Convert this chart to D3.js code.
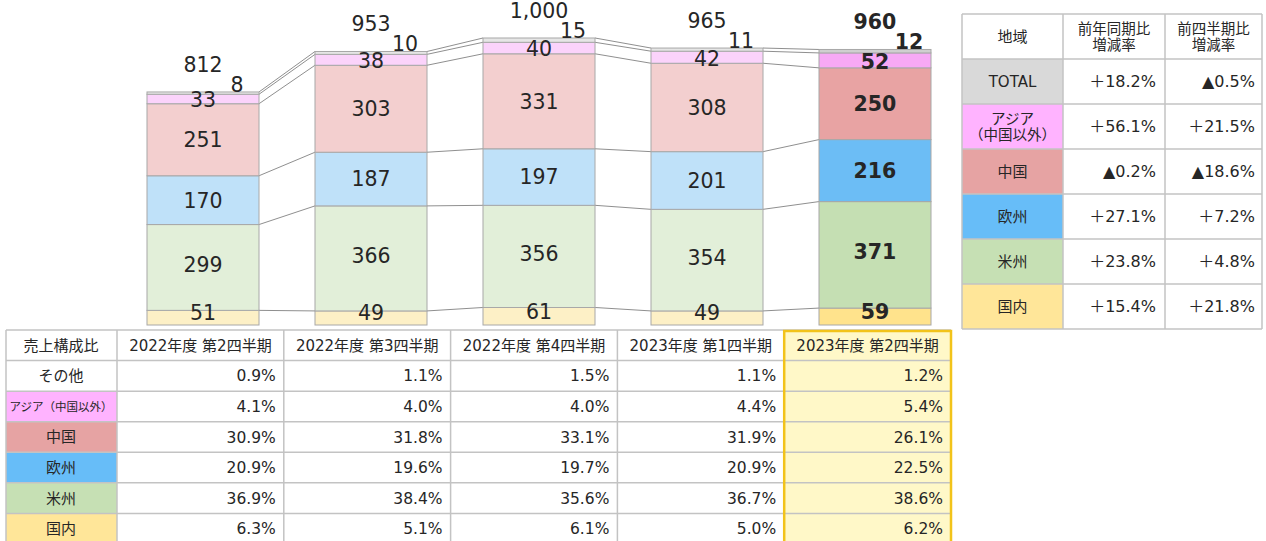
<!DOCTYPE html>
<html>
<head>
<meta charset="utf-8">
<script src="https://cdn.jsdelivr.net/npm/d3@7/dist/d3.min.js"></script>
<style>
body{margin:0;background:#fff;}
text{font-family:"DejaVu Sans","Noto Sans CJK JP",sans-serif;fill:#262626;}
</style>
</head>
<body>
<div id="chart"></div>
<script>
// quarters and stacked series (bottom -> top)
var quarters = ["2022年度 第2四半期","2022年度 第3四半期","2022年度 第4四半期","2023年度 第1四半期","2023年度 第2四半期"];
var seriesKeys = ["国内","米州","欧州","中国","アジア","その他"];
var domestic = [51, 49, 61, 49, 59];
var americas = [299, 366, 356, 354, 371];
var europe   = [170, 187, 197, 201, 216];
var china    = [251, 303, 331, 308, 250];
var asia     = [33, 38, 40, 42, 52];
var other    = [8, 10, 15, 11, 12];
var seriesValues = [domestic, americas, europe, china, asia, other];

// composition table (売上構成比)
var shareLabels = ["その他","アジア（中国以外）","中国","欧州","米州","国内"];
var shareOther    = [0.9, 1.1, 1.5, 1.1, 1.2];
var shareAsia     = [4.1, 4.0, 4.0, 4.4, 5.4];
var shareChina    = [30.9, 31.8, 33.1, 31.9, 26.1];
var shareEurope   = [20.9, 19.6, 19.7, 20.9, 22.5];
var shareAmericas = [36.9, 38.4, 35.6, 36.7, 38.6];
var shareDomestic = [6.3, 5.1, 6.1, 5.0, 6.2];
var shareValues = [shareOther, shareAsia, shareChina, shareEurope, shareAmericas, shareDomestic];

// growth table
var regionNames = ["TOTAL","アジア\n（中国以外）","中国","欧州","米州","国内"];
var yoyGrowth = [18.2, 56.1, -0.2, 27.1, 23.8, 15.4];
var qoqGrowth = [-0.5, 21.5, -18.6, 7.2, 4.8, 21.8];

var fadedColors = ["#fdf0c6","#e2efd9","#bfe1f9","#f3cfcf","#fbd3fb","#e6e6e6"];
var strongColors = ["#ffe38c","#c5dfb3","#6cbdf5","#e8a3a3","#f7a9f5","#cfcfcf"];
var labelDy = [-5, -3, 0, 0, 1, 0];

var svg = d3.select("#chart").append("svg")
    .attr("width", 1266)
    .attr("height", 541);

var x = d3.scaleBand()
    .domain(quarters)
    .range([119, 959])
    .paddingInner(1/3)
    .paddingOuter(1/6);
var y = d3.scaleLinear()
    .domain([0, 1000])
    .range([325, 38]);

var rows = quarters.map(function(q, i){
    var r = {q: q};
    seriesKeys.forEach(function(k, j){ r[k] = seriesValues[j][i]; });
    return r;
});
var stack = d3.stack().keys(seriesKeys)(rows);
var last = quarters.length - 1;

// connector lines between bars
var conn = svg.append("g");
stack.forEach(function(layer){
    for (var i = 0; i < last; i++){
        conn.append("line")
            .attr("x1", x(quarters[i]) + x.bandwidth())
            .attr("y1", y(layer[i][1]))
            .attr("x2", x(quarters[i+1]))
            .attr("y2", y(layer[i+1][1]))
            .style("stroke", "#8f8f8f")
            .style("stroke-width", 1);
    }
});

// segments
var bars = svg.append("g");
stack.forEach(function(layer, s){
    bars.selectAll(null)
        .data(layer)
        .enter().append("rect")
        .attr("x", function(d){ return x(d.data.q); })
        .attr("y", function(d){ return y(d[1]); })
        .attr("width", x.bandwidth())
        .attr("height", function(d){ return y(d[0]) - y(d[1]); })
        .style("fill", function(d, i){ return i === last ? strongColors[s] : fadedColors[s]; })
        .style("stroke", "#a8a8a8")
        .style("stroke-width", 1);
});

// segment labels
var labels = svg.append("g");
stack.forEach(function(layer, s){
    var isOther = s === stack.length - 1;
    labels.selectAll(null)
        .data(layer)
        .enter().append("text")
        .attr("x", function(d){ return x(d.data.q) + x.bandwidth() / 2 + (isOther ? 34 : 0); })
        .attr("y", function(d){ return isOther ? y(d[1]) : (y(d[0]) + y(d[1])) / 2 + labelDy[s]; })
        .attr("dy", isOther ? "0" : "0.36em")
        .attr("text-anchor", "middle")
        .attr("font-size", "20.5px")
        .attr("font-weight", function(d, i){ return i === last ? "bold" : "normal"; })
        .text(function(d){ return d[1] - d[0]; });
});

// totals
var topLayer = stack[stack.length - 1];
labels.selectAll(null)
    .data(topLayer)
    .enter().append("text")
    .attr("x", function(d){ return x(d.data.q) + x.bandwidth() / 2; })
    .attr("y", function(d){ return y(d[1]) - 20; })
    .attr("text-anchor", "middle")
    .attr("font-size", "20.5px")
    .attr("font-weight", function(d, i){ return i === last ? "bold" : "normal"; })
    .text(function(d){ return d3.format(",")(d[1]); });

// ---- bottom table ----
var gridColor = "#c3c3c3";
var tx = d3.scaleBand().domain(quarters).range([117, 951]);
var tRows = ["head"].concat(shareLabels);
var ty = d3.scaleBand().domain(tRows).range([330, 544]);
var labelColors = ["#ffffff","#ffb3ff","#e6a3a3","#67bdf8","#c6e0b4","#ffe699"];
var tbl = svg.append("g");

tbl.append("rect")
    .attr("x", tx(quarters[last])).attr("y", 330)
    .attr("width", tx.bandwidth()).attr("height", 214)
    .style("fill", "#fff8c8");

shareLabels.forEach(function(lab, r){
    tbl.append("rect")
        .attr("x", 6).attr("y", ty(lab))
        .attr("width", 111).attr("height", ty.bandwidth())
        .style("fill", labelColors[r]);
});

// grid
tRows.forEach(function(r){
    tbl.append("line")
        .attr("x1", 6).attr("x2", 951)
        .attr("y1", ty(r)).attr("y2", ty(r))
        .style("stroke", gridColor).style("stroke-width", 1.5);
});
[6].concat(quarters.map(function(q){ return tx(q); })).forEach(function(xx){
    tbl.append("line")
        .attr("x1", xx).attr("x2", xx)
        .attr("y1", 330).attr("y2", 544)
        .style("stroke", gridColor).style("stroke-width", 1.5);
});

tbl.append("text")
    .attr("x", 61).attr("y", ty("head") + ty.bandwidth() / 2)
    .attr("dy", "0.36em").attr("text-anchor", "middle")
    .attr("font-size", "15px")
    .text("売上構成比");
quarters.forEach(function(q){
    tbl.append("text")
        .attr("x", tx(q) + tx.bandwidth() / 2).attr("y", ty("head") + ty.bandwidth() / 2)
        .attr("dy", "0.36em").attr("text-anchor", "middle")
        .attr("font-size", "15px")
        .text(q);
});
shareLabels.forEach(function(lab, r){
    tbl.append("text")
        .attr("x", 61).attr("y", ty(lab) + ty.bandwidth() / 2)
        .attr("dy", "0.36em").attr("text-anchor", "middle")
        .attr("font-size", r === 1 ? "11.5px" : "15px")
        .text(lab);
    quarters.forEach(function(q, i){
        tbl.append("text")
            .attr("x", tx(q) + tx.bandwidth() - 8).attr("y", ty(lab) + ty.bandwidth() / 2)
            .attr("dy", "0.36em").attr("text-anchor", "end")
            .attr("font-size", "15.5px")
            .text(shareValues[r][i].toFixed(1) + "%");
    });
});

tbl.append("rect")
    .attr("x", tx(quarters[last])).attr("y", 331)
    .attr("width", tx.bandwidth()).attr("height", 215)
    .style("fill", "none")
    .style("stroke", "#f2c31a")
    .style("stroke-width", 2.5);

// ---- right table ----
var cols = [962, 1063, 1165, 1262];
var ry = d3.scaleBand().domain(["head"].concat(regionNames)).range([14, 329]);
var regionColors = ["#d9d9d9","#ffb3ff","#e6a3a3","#67bdf8","#c6e0b4","#ffe699"];
var rt = svg.append("g");

regionNames.forEach(function(n, r){
    rt.append("rect")
        .attr("x", cols[0]).attr("y", ry(n))
        .attr("width", cols[1] - cols[0]).attr("height", ry.bandwidth())
        .style("fill", regionColors[r]);
});
ry.domain().concat(["end"]).forEach(function(n){
    var yy = n === "end" ? 329 : ry(n);
    rt.append("line")
        .attr("x1", cols[0]).attr("x2", cols[3])
        .attr("y1", yy).attr("y2", yy)
        .style("stroke", gridColor).style("stroke-width", 1.5);
});
cols.forEach(function(xx){
    rt.append("line")
        .attr("x1", xx).attr("x2", xx)
        .attr("y1", 14).attr("y2", 329)
        .style("stroke", gridColor).style("stroke-width", 1.5);
});

function multiLine(g, str, cx, cy, size){
    var parts = str.split("\n");
    var lh = size * 1.1;
    var t = g.append("text")
        .attr("text-anchor", "middle")
        .attr("font-size", size + "px");
    parts.forEach(function(p, k){
        t.append("tspan")
            .attr("x", cx)
            .attr("y", cy + (k - (parts.length - 1) / 2) * lh)
            .attr("dy", "0.36em")
            .text(p);
    });
}

var headY = ry("head") + ry.bandwidth() / 2;
multiLine(rt, "地域", (cols[0] + cols[1]) / 2, headY, 15);
multiLine(rt, "前年同期比\n増減率", (cols[1] + cols[2]) / 2, headY, 14.5);
multiLine(rt, "前四半期比\n増減率", (cols[2] + cols[3]) / 2, headY, 14.5);

function fmtGrowth(v){
    return (v < 0 ? "▲" : "＋") + Math.abs(v).toFixed(1) + "%";
}
regionNames.forEach(function(n, r){
    var cy = ry(n) + ry.bandwidth() / 2;
    multiLine(rt, n, (cols[0] + cols[1]) / 2, cy, r === 1 ? 14.5 : 15);
    rt.append("text")
        .attr("x", cols[2] - 9).attr("y", cy).attr("dy", "0.36em")
        .attr("text-anchor", "end").attr("font-size", "16px")
        .text(fmtGrowth(yoyGrowth[r]));
    rt.append("text")
        .attr("x", cols[3] - 7).attr("y", cy).attr("dy", "0.36em")
        .attr("text-anchor", "end").attr("font-size", "16px")
        .text(fmtGrowth(qoqGrowth[r]));
});
</script>
</body>
</html>
